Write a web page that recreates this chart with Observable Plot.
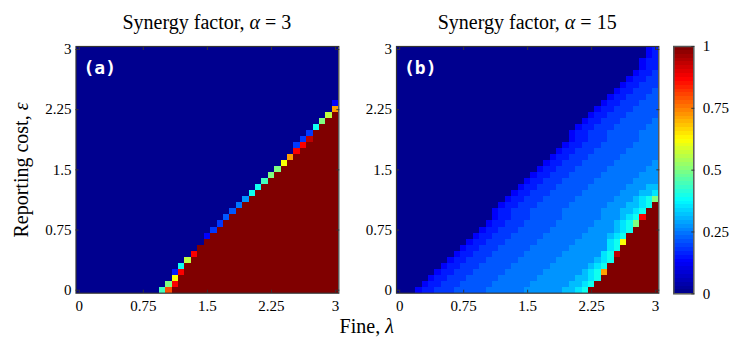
<!DOCTYPE html>
<html><head><meta charset="utf-8">
<script src="https://cdn.jsdelivr.net/npm/d3@7"></script>
<script src="https://cdn.jsdelivr.net/npm/@observablehq/plot@0.6"></script>
<style>
body{margin:0;background:#fff;}
#root{position:relative;width:735px;height:354px;font-family:"Liberation Serif","Times New Roman",serif;color:#000;overflow:hidden;}
.abs{position:absolute;white-space:nowrap;line-height:1;}
.abs svg{display:block;}
</style></head><body><div id="root"></div>
<script>
// ---- grid and ticks ----
const gridStep = 0.075;               // both fine (lambda) and reporting cost (epsilon)
const gridCount = 41;                 // 0, 0.075, ..., 3
const axisTicks = [0, 0.75, 1.5, 2.25, 3];
const axisTickLabels = ["0", "0.75", "1.5", "2.25", "3"];
const colorbarTicks = [0, 0.25, 0.5, 0.75, 1];
const colorbarTickLabels = ["0", "0.25", "0.5", "0.75", "1"];
const titles = ["Synergy factor, ", "Synergy factor, "];
const alphaValues = ["3", "15"];
const panelTags = ["(a)", "(b)"];

// ---- cell level codes ----
const levelCodes  = [".", "1", "2", "3", "4", "5", "6", "7", "8", "9", "c", "g", "h", "y", "o", "p", "r", "d", "R"];
const levelValues = [0, 0.12, 0.15, 0.18, 0.21, 0.24, 0.27, 0.31, 0.35, 0.39, 0.44, 0.5, 0.56, 0.62, 0.72, 0.8, 0.88, 0.94, 1];

// ---- panel (a), alpha = 3: per fine column, number of rows at 1 and the boundary cells above ----
const edgeColsA  = [13, 14, 15, 16, 17, 18, 19, 20, 21, 22, 23, 24, 25, 26, 27, 28, 29, 30, 31, 32, 33, 34, 35, 36, 37, 38, 39, 40];
const redRowsA   = [0, 0, 1, 3, 5, 6, 8, 9, 10, 11, 12, 13, 14, 15, 16, 17, 18, 19, 20, 21, 22, 23, 24, 25, 27, 28, 29, 30];
const edgeCellsA = ["c", "pg", "ry2", "r9", "h", "r", "", "1", "3", "3", "4", "4", "5", "6", "9", "9", "c", "g", "g", "y", "o", "r3", "r3", "d3", "9", "g", "h", "o1"];

// ---- panel (b), alpha = 15: one string per reporting-cost row, top (3) to bottom (0) ----
const rowsB = [
  ".......................................12",
  ".......................................12",
  "......................................122",
  "......................................122",
  ".....................................1223",
  "....................................12233",
  "...................................122333",
  "..................................1223334",
  ".................................12233344",
  "................................122333444",
  "...............................1223334444",
  "..............................12233344444",
  ".............................122333444445",
  "............................1223334444455",
  "...........................12233344444555",
  "...........................12233344444555",
  "..........................122333444445555",
  ".........................1223334444455555",
  "........................12233344444555555",
  ".......................122333444445555556",
  "......................1223334444455555566",
  ".....................12233344444555555666",
  "....................122333444445555556666",
  "...................1223334444455555566677",
  "..................12233344444555555666778",
  ".................12233344444555555666789g",
  "................122333444445555556667789R",
  "...............122333444445555556667789RR",
  "...............12233344444555555666789rRR",
  "..............12233344444555555666789gRRR",
  ".............122333444445555556666789RRRR",
  "............122333444445555556666789RRRRR",
  "...........122333444445555556666689yRRRRR",
  "..........1223334444455555566666689RRRRRR",
  ".........1223334444455555566666689dRRRRRR",
  "........12233344444555555666666789RRRRRRR",
  ".......12233344444555555666666789RRRRRRRR",
  "......12233344444555555666666789oRRRRRRRR",
  ".....122333444445555556666667789RRRRRRRRR",
  "....122333444445555556666667789RRRRRRRRRR",
  "...122333444445555556666667789RRRRRRRRRRR"
];

// ---- jet colour map (64-level MATLAB style end colours) ----
const jetStops  = [0, 0.125, 0.375, 0.625, 0.875, 1];
const jetColors = ["#00008f", "#0000ff", "#00ffff", "#ffff00", "#ff0000", "#800000"];

// ---- build cells ----
const codeValue = ch => levelValues[levelCodes.indexOf(ch)];
const gridAt = i => i * gridStep;

function cellsA() {
  const out = [];
  for (let c = 0; c < gridCount; c++) {
    const k = edgeColsA.indexOf(c);
    for (let r = 0; r < gridCount; r++) {
      let v = 0;
      if (k >= 0) {
        const red = redRowsA[k], edge = edgeCellsA[k];
        if (r < red) v = 1;
        else if (r - red < edge.length) v = codeValue(edge[r - red]);
      }
      out.push({x: gridAt(c), y: gridAt(r), v});
    }
  }
  return out;
}
function cellsB() {
  const out = [];
  rowsB.forEach((s, i) => {
    const r = gridCount - 1 - i;
    for (let c = 0; c < gridCount; c++) out.push({x: gridAt(c), y: gridAt(r), v: codeValue(s[c])});
  });
  return out;
}

const serif = '"Liberation Serif", "Times New Roman", serif';
const mono = '"DejaVu Sans Mono", monospace';
const half = gridStep / 2;
const dom = [-half, 3 + half];
const colorScale = {type: "linear", domain: jetStops, range: jetColors, interpolate: "rgb"};
const fmt = d => axisTickLabels[axisTicks.indexOf(d)];
const axisText = {fontSize: 15, fill: "#000", stroke: "#333", label: null};

function serifTexts(svg) {
  svg.querySelectorAll("text").forEach(t => {
    const isTag = panelTags.includes(t.textContent);
    t.style.fontFamily = isTag ? mono : serif;
    if (!isTag) t.style.fontSize = "15px";
  });
  return svg;
}

function panel(cells, tag, opts) {
  return serifTexts(Plot.plot({
    width: opts.width, height: 354,
    marginLeft: opts.ml, marginRight: opts.mr, marginTop: 46, marginBottom: 61.3,
    x: {domain: dom}, y: {domain: dom},
    color: colorScale,
    style: {background: "transparent", overflow: "visible"},
    marks: [
      Plot.rect(cells, {x1: d => d.x - half, x2: d => d.x + half, y1: d => d.y - half, y2: d => d.y + half, fill: "v", shapeRendering: "crispEdges"}),
      Plot.frame({stroke: "#333", strokeWidth: 1.2}),
      Plot.axisX({...axisText, ticks: axisTicks, tickFormat: fmt, tickSize: -3, tickPadding: 10}),
      Plot.axisX({...axisText, anchor: "top", ticks: axisTicks, tickFormat: () => "", tickSize: -3}),
      Plot.axisY({...axisText, ticks: axisTicks, tickFormat: fmt, tickSize: -3, tickPadding: 7.5}),
      Plot.axisY({...axisText, anchor: "right", ticks: axisTicks, tickFormat: () => "", tickSize: -3}),
      Plot.text([tag], {frameAnchor: "top-left", text: d => d, dx: 7.5, dy: 21.5, lineAnchor: "middle", textAnchor: "start",
        fill: "white", fontFamily: mono, fontWeight: "bold", fontSize: 18})
    ]
  }));
}

function colorbar() {
  const n = 64;
  const bands = d3.range(n).map(i => ({y1: i / n, y2: (i + 1) / n, v: i / (n - 1)}));
  const cfmt = d => colorbarTickLabels[colorbarTicks.indexOf(d)];
  return serifTexts(Plot.plot({
    width: 70, height: 354,
    marginLeft: 8.3, marginRight: 41.7, marginTop: 46, marginBottom: 60.7,
    x: {domain: [0, 1], axis: null}, y: {domain: [0, 1]},
    color: colorScale,
    style: {background: "transparent", overflow: "visible"},
    marks: [
      Plot.rect(bands, {x1: 0, x2: 1, y1: "y1", y2: "y2", fill: "v", shapeRendering: "crispEdges"}),
      Plot.frame({stroke: "#555", strokeWidth: 1.5}),
      Plot.axisY({...axisText, anchor: "right", ticks: colorbarTicks, tickFormat: cfmt, tickSize: -3, tickPadding: 12})
    ]
  }));
}

const root = document.getElementById("root");
function place(node, left, top) {
  const d = document.createElement("div");
  d.className = "abs"; d.style.left = left + "px"; d.style.top = top + "px";
  d.appendChild(node); root.appendChild(d); return d;
}
function label(html, css) {
  const d = document.createElement("div");
  d.className = "abs"; d.innerHTML = html; Object.assign(d.style, css); root.appendChild(d); return d;
}

place(panel(cellsA(), panelTags[0], {width: 350, ml: 75.5, mr: 11.7}), 0, 0);
place(panel(cellsB(), panelTags[1], {width: 315, ml: 46, mr: 6.7}), 350, 0);
place(colorbar(), 665, 0);

label(titles[0] + '<i>α</i> = ' + alphaValues[0], {left: "206.9px", top: "12px", fontSize: "20px", transform: "translateX(-50%)"});
label(titles[1] + '<i>α</i> = ' + alphaValues[1], {left: "527.2px", top: "12px", fontSize: "20px", transform: "translateX(-50%)"});
label('Fine, <i>λ</i>', {left: "366.7px", top: "316px", fontSize: "20px", transform: "translateX(-50%)"});
label('Reporting cost, <i>ε</i>', {left: "21px", top: "170px", fontSize: "20px", transform: "translate(-50%,-50%) rotate(-90deg)"});
</script></body></html>
